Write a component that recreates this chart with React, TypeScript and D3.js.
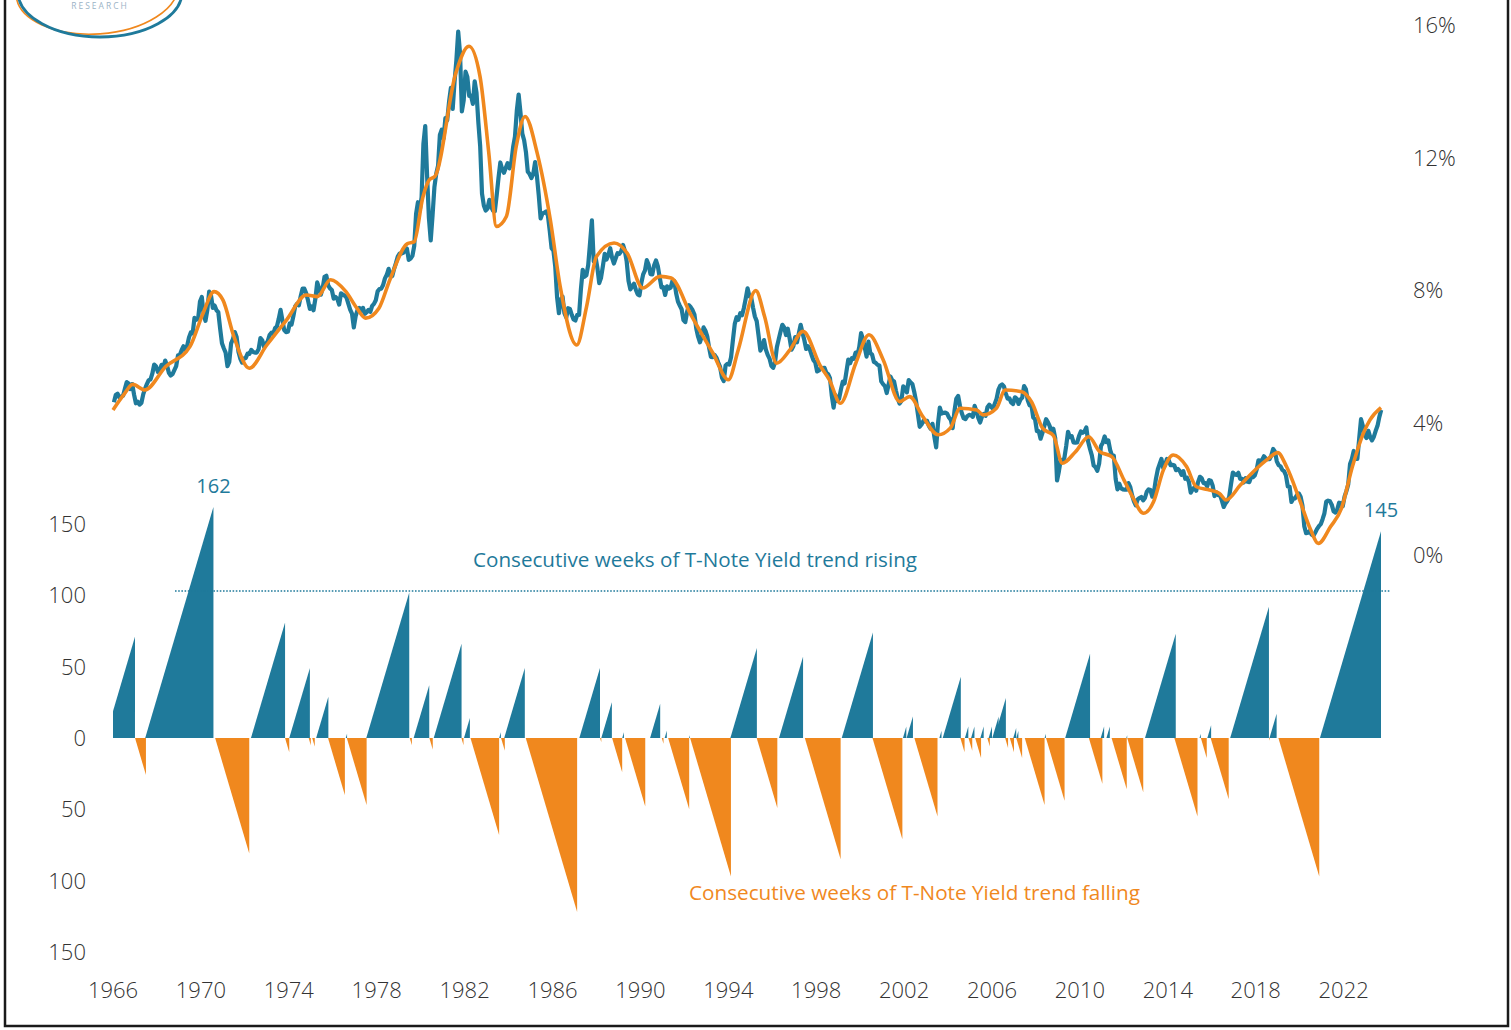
import React from "react";
import * as d3 from "d3";

// ---------- DATA ----------
const START_YEAR = 1966;

// 10-year T-Note yield (%), one reading per month, Jan 1966 .. Sep 2023
const tenYearYieldMonthly: number[] = [
  4.61, 4.83, 4.87, 4.75, 4.78, 4.81, 5.02, 5.22, 5.18, 5.01, 5.16, 4.84,
  4.58, 4.63, 4.54, 4.59, 4.85, 5.02, 5.16, 5.28, 5.3, 5.48, 5.75, 5.7,
  5.53, 5.56, 5.74, 5.64, 5.87, 5.72, 5.5, 5.42, 5.46, 5.58, 5.7, 6.03,
  6.04, 6.19, 6.3, 6.17, 6.32, 6.57, 6.72, 6.69, 7.16, 7.1, 7.14, 7.65,
  7.79, 7.24, 7.07, 7.39, 7.95, 7.84, 7.46, 7.53, 7.39, 7.33, 6.84, 6.39,
  6.24, 6.11, 5.7, 5.83, 6.39, 6.52, 6.73, 6.58, 6.14, 5.93, 5.81, 5.93,
  5.95, 6.08, 6.07, 6.19, 6.13, 6.11, 6.11, 6.21, 6.55, 6.48, 6.28, 6.36,
  6.46, 6.64, 6.71, 6.67, 6.85, 6.9, 7.13, 7.4, 7.09, 6.79, 6.73, 6.74,
  6.99, 6.96, 7.21, 7.51, 7.58, 7.54, 7.81, 8.04, 8.04, 7.9, 7.68, 7.43,
  7.5, 7.39, 7.73, 8.23, 8.06, 7.86, 8.06, 8.4, 8.43, 8.14, 8.05, 8.0,
  7.74, 7.79, 7.73, 7.56, 7.9, 7.86, 7.83, 7.77, 7.59, 7.41, 7.29, 6.87,
  7.21, 7.39, 7.46, 7.37, 7.46, 7.28, 7.33, 7.4, 7.34, 7.52, 7.58, 7.69,
  7.96, 8.03, 8.04, 8.15, 8.35, 8.46, 8.64, 8.41, 8.42, 8.64, 8.81, 9.01,
  9.1, 9.1, 9.12, 9.18, 9.25, 8.91, 8.95, 9.03, 9.33, 10.3, 10.65, 10.39,
  10.8, 12.41, 12.95, 11.47, 10.18, 9.5, 10.25, 11.1, 11.51, 11.75, 12.68, 12.84,
  12.57, 13.19, 13.12, 13.68, 14.1, 13.47, 14.28, 14.94, 15.8, 15.15, 13.39, 13.72,
  14.59, 14.43, 13.86, 13.87, 13.62, 14.3, 13.95, 13.06, 12.34, 10.91, 10.55, 10.4,
  10.46, 10.72, 10.51, 10.4, 10.38, 10.85, 11.38, 11.85, 11.65, 11.54, 11.69, 11.83,
  11.67, 11.84, 12.32, 12.63, 13.41, 13.9, 13.36, 12.72, 12.52, 12.16, 11.57, 11.5,
  11.38, 11.51, 11.86, 11.43, 10.85, 10.16, 10.31, 10.33, 10.37, 10.24, 9.78, 9.26,
  9.19, 8.7, 7.78, 7.3, 7.71, 7.8, 7.3, 7.17, 7.45, 7.43, 7.25, 7.11,
  7.08, 7.25, 7.25, 8.02, 8.61, 8.4, 8.45, 8.76, 9.42, 10.1, 8.86, 8.99,
  8.67, 8.21, 8.37, 8.72, 9.09, 8.92, 9.06, 9.26, 8.98, 8.8, 8.96, 9.11,
  9.09, 9.17, 9.36, 9.18, 8.86, 8.28, 8.02, 8.11, 8.19, 8.01, 7.87, 7.84,
  8.21, 8.47, 8.59, 8.9, 8.76, 8.48, 8.47, 8.75, 8.89, 8.72, 8.39, 8.08,
  8.09, 7.85, 8.11, 8.04, 8.07, 8.28, 8.27, 7.9, 7.65, 7.53, 7.42, 7.09,
  7.03, 7.34, 7.54, 7.48, 7.39, 7.26, 6.84, 6.59, 6.42, 6.59, 6.87, 6.77,
  6.6, 6.26, 5.98, 5.97, 6.04, 5.96, 5.81, 5.68, 5.36, 5.25, 5.72, 5.77,
  5.75, 5.97, 6.48, 6.97, 7.18, 7.1, 7.3, 7.24, 7.46, 7.74, 8.05, 7.81,
  7.78, 7.47, 7.2, 7.06, 6.63, 6.17, 6.28, 6.49, 6.2, 6.04, 5.93, 5.71,
  5.65, 5.81, 6.27, 6.51, 6.74, 6.95, 6.87, 6.64, 6.83, 6.53, 6.2, 6.3,
  6.58, 6.42, 6.69, 6.95, 6.71, 6.49, 6.22, 6.3, 6.21, 6.03, 5.88, 5.81,
  5.54, 5.57, 5.65, 5.64, 5.65, 5.5, 5.46, 5.34, 4.81, 4.45, 4.83, 4.65,
  4.72, 5.0, 5.23, 5.18, 5.54, 5.9, 5.79, 5.94, 5.92, 6.11, 6.03, 6.28,
  6.7, 6.52, 6.26, 5.99, 6.44, 6.1, 6.05, 5.83, 5.8, 5.74, 5.72, 5.24,
  5.16, 5.1, 4.89, 5.14, 5.39, 5.28, 5.24, 4.97, 4.73, 4.57, 4.65, 5.09,
  5.04, 4.91, 5.28, 5.21, 5.16, 4.93, 4.65, 4.26, 3.87, 3.94, 4.05, 4.03,
  4.05, 3.9, 3.81, 3.96, 3.57, 3.25, 3.98, 4.45, 4.27, 4.29, 4.3, 4.27,
  4.15, 4.08, 3.83, 4.35, 4.72, 4.8, 4.5, 4.28, 4.13, 4.1, 4.19, 4.23,
  4.22, 4.17, 4.5, 4.34, 4.14, 4.0, 4.18, 4.26, 4.2, 4.46, 4.54, 4.47,
  4.42, 4.57, 4.72, 4.99, 5.11, 5.15, 5.09, 4.88, 4.72, 4.73, 4.6, 4.56,
  4.76, 4.72, 4.56, 4.69, 4.75, 5.1, 5.0, 4.67, 4.52, 4.53, 4.15, 4.1,
  3.74, 3.74, 3.51, 3.68, 3.88, 4.1, 4.01, 3.89, 3.69, 3.81, 3.53, 2.25,
  2.52, 2.87, 2.82, 2.93, 3.29, 3.72, 3.56, 3.59, 3.4, 3.39, 3.4, 3.59,
  3.73, 3.69, 3.73, 3.85, 3.42, 3.2, 3.01, 2.7, 2.65, 2.54, 2.76, 3.29,
  3.39, 3.58, 3.41, 3.46, 3.17, 3.0, 3.0, 2.3, 1.98, 2.15, 2.01, 1.98,
  1.97, 1.97, 2.17, 2.05, 1.8, 1.62, 1.5, 1.68, 1.72, 1.75, 1.65, 1.72,
  1.91, 1.98, 1.96, 1.76, 1.93, 2.3, 2.58, 2.74, 2.9, 2.62, 2.72, 2.9,
  2.86, 2.71, 2.72, 2.71, 2.56, 2.6, 2.54, 2.42, 2.53, 2.3, 2.33, 2.21,
  1.88, 1.98, 2.04, 1.94, 2.2, 2.36, 2.32, 2.17, 2.17, 2.07, 2.26, 2.24,
  2.09, 1.78, 1.89, 1.81, 1.81, 1.64, 1.45, 1.56, 1.63, 1.76, 2.14, 2.49,
  2.43, 2.42, 2.48, 2.3, 2.3, 2.19, 2.32, 2.21, 2.2, 2.36, 2.35, 2.4,
  2.58, 2.86, 2.84, 2.87, 2.98, 2.91, 2.89, 2.89, 3.0, 3.2, 3.12, 2.83,
  2.71, 2.68, 2.57, 2.53, 2.4, 2.07, 2.06, 1.6, 1.7, 1.71, 1.81, 1.86,
  1.76, 1.5, 0.87, 0.66, 0.67, 0.73, 0.62, 0.58, 0.68, 0.79, 0.87, 0.93,
  1.08, 1.26, 1.61, 1.64, 1.62, 1.52, 1.32, 1.28, 1.37, 1.58, 1.56, 1.47,
  1.76, 1.93, 2.13, 2.75, 2.9, 3.14, 2.9, 2.9, 3.52, 4.1, 3.89, 3.62,
  3.53, 3.75, 3.56, 3.46, 3.57, 3.75, 3.9, 4.17, 4.38,
];

// Smoothed yield trend (orange line)
const trendYears: number[] = [
  1966.0, 1966.5, 1966.9, 1967.45, 1968.4, 1969.5, 1970.1, 1970.6, 1971.0, 1971.5,
  1972.2, 1973.0, 1973.9, 1974.8, 1975.3, 1975.9, 1976.6, 1977.1, 1977.5, 1978.1,
  1978.6, 1979.4, 1979.7, 1980.1, 1980.4, 1980.65, 1981.6, 1982.2, 1982.7, 1983.1,
  1983.45, 1983.9, 1984.35, 1984.75, 1985.3, 1985.9, 1986.35, 1987.1, 1987.55, 1988.0,
  1988.8, 1989.4, 1990.1, 1990.9, 1991.4, 1992.3, 1993.3, 1994.0, 1994.45, 1995.25,
  1995.65, 1996.2, 1996.8, 1997.4, 1998.2, 1998.6, 1999.1, 1999.8, 2000.4, 2001.05,
  2001.8, 2002.25, 2002.85, 2003.55, 2004.1, 2004.55, 2005.3, 2005.6, 2006.2, 2006.6,
  2007.35, 2007.8, 2008.3, 2008.8, 2009.2, 2009.8, 2010.4, 2010.9, 2011.45, 2012.0,
  2012.35, 2012.9, 2013.35, 2013.8, 2014.25, 2014.85, 2015.3, 2015.9, 2016.35, 2016.65,
  2017.3, 2017.9, 2018.5, 2019.0, 2019.4, 2020.0, 2020.5, 2020.85, 2021.4, 2021.9,
  2022.4, 2022.9, 2023.2, 2023.7,
];
const trendValues: number[] = [
  4.38, 4.85, 5.15, 4.98, 5.69, 6.29, 7.3, 7.95, 7.7, 6.6,
  5.64, 6.34, 7.1, 7.85, 7.8, 8.31, 7.95, 7.45, 7.15, 7.45,
  8.31, 9.4, 9.45, 10.8, 11.33, 11.43, 14.55, 15.36, 14.45, 12.14,
  9.92, 10.22, 12.34, 13.24, 12.14, 10.12, 8.1, 6.34, 7.5, 9.01,
  9.42, 9.11, 8.06, 8.41, 8.36, 7.25, 6.09, 5.29, 6.19, 7.98,
  7.2, 5.79, 6.19, 6.75, 5.69, 5.29, 4.58, 5.79, 6.65, 5.89,
  4.63, 4.78, 4.18, 3.63, 3.83, 4.43, 4.38, 4.23, 4.43, 4.98,
  4.93, 4.62, 3.83, 3.6, 2.77, 3.12, 3.57, 3.12, 2.97, 2.27,
  1.81, 1.26, 1.61, 2.57, 3.02, 2.67, 2.06, 1.96, 1.86, 1.66,
  2.11, 2.52, 2.87, 3.09, 2.67, 1.66, 0.76, 0.35, 0.85, 1.41,
  2.67, 3.68, 4.08, 4.45,
];

// Streaks of the trend rising: end date (year) and length (weeks)
const risingEnd: number[] = [
  1967.0, 1970.57, 1973.83, 1974.96, 1975.8, 1976.65, 1979.48, 1980.39, 1981.86, 1982.24,
  1983.65, 1984.74, 1988.16, 1988.7, 1989.25, 1990.9, 1991.2, 1992.25, 1995.3, 1997.4,
  2000.58, 2002.1, 2002.4, 2003.7, 2004.58, 2004.92, 2005.2, 2005.62, 2006.0, 2006.3,
  2006.63, 2007.1, 2007.2, 2008.45, 2010.46, 2011.1, 2011.36, 2012.15, 2014.36, 2015.5,
  2015.97, 2018.6, 2018.95, 2023.7,
];
const risingWeeks: number[] = [
  71, 162, 81, 49, 29, 3, 102, 37, 66, 14,
  4, 49, 49, 25, 4, 24, 5, 2, 63, 57,
  74, 8, 15, 5, 43, 8, 8, 8, 8, 15,
  28, 7, 5, 3, 59, 8, 8, 2, 73, 3,
  9, 92, 17, 145,
];

// Streaks of the trend falling: end date (year) and length (weeks)
const fallingEnd: number[] = [
  1967.5, 1972.2, 1974.02, 1975.0, 1975.18, 1976.55, 1977.54, 1979.6, 1980.55, 1981.95,
  1983.57, 1983.83, 1987.12, 1988.22, 1989.17, 1990.22, 1991.05, 1992.22, 1994.12, 1996.23,
  1999.11, 2001.92, 2003.52, 2004.75, 2005.1, 2005.5, 2005.9, 2006.73, 2007.0, 2007.37,
  2008.39, 2009.3, 2011.02, 2012.13, 2012.88, 2015.35, 2015.77, 2016.77, 2018.65, 2020.89,
];
const fallingWeeks: number[] = [
  26, 81, 10, 5, 6, 40, 47, 5, 8, 5,
  68, 9, 122, 3, 24, 48, 4, 50, 97, 49,
  85, 71, 55, 10, 9, 14, 6, 7, 10, 14,
  47, 44, 32, 36, 38, 55, 14, 43, 2, 97,
];

const yearTicks: number[] = [1966, 1970, 1974, 1978, 1982, 1986, 1990, 1994, 1998, 2002, 2006, 2010, 2014, 2018, 2022];
const yieldTicks: number[] = [0, 4, 8, 12, 16];
const streakTicks: number[] = [150, 100, 50, 0, -50, -100, -150];
const peakLabels = [
  { year: 1970.57, weeks: 162, text: "162" },
  { year: 2023.7, weeks: 145, text: "145" },
];
const referenceWeeks = 103;
const referenceSpan: [number, number] = [1968.82, 2024.1];
const risingLabel = "Consecutive weeks of T-Note Yield trend rising";
const fallingLabel = "Consecutive weeks of T-Note Yield trend falling";

// ---------- STYLE ----------
const TEAL = "#1f7a9b";
const ORANGE = "#f0881e";
const TEXT = "#333333";
const FONT = "'Open Sans', 'Noto Sans', sans-serif";
const WEEKS_PER_YEAR = 52.18;

export default function App() {
  const W = 1511;
  const H = 1030;

  const x = d3.scaleLinear().domain([1966, 2023.7]).range([113, 1381]);
  const yY = d3.scaleLinear().domain([0, 16]).range([555, 25]);
  const yS = d3.scaleLinear().domain([-150, 150]).range([952, 524]);

  const blueData = tenYearYieldMonthly.map((v, i) => [START_YEAR + i / 12 + 1 / 24, v] as [number, number]);
  const trendData = trendYears.map((t, i) => [t, trendValues[i]] as [number, number]);

  const lineY = d3
    .line<[number, number]>()
    .x((d) => x(d[0]))
    .y((d) => yY(d[1]));
  const lineTrend = d3
    .line<[number, number]>()
    .x((d) => x(d[0]))
    .y((d) => yY(d[1]))
    .curve(d3.curveMonotoneX);

  const tri = d3
    .line<[number, number]>()
    .x((d) => x(d[0]))
    .y((d) => yS(d[1]));

  const risingPaths = risingEnd.map((e, i) => {
    const w = risingWeeks[i];
    return tri([
      [e - w / WEEKS_PER_YEAR, 0],
      [e, w],
      [e, 0],
    ]) as string;
  });
  const fallingPaths = fallingEnd.map((e, i) => {
    const w = fallingWeeks[i];
    return tri([
      [e - w / WEEKS_PER_YEAR, 0],
      [e, -w],
      [e, 0],
    ]) as string;
  });

  return (
    <div style={{ position: "absolute", left: 0, top: 0 }}>
      <svg width={W} height={H} style={{ display: "block", background: "#fff" }} fontFamily={FONT}>
        <defs>
          <clipPath id="plotClip">
            <rect x={x(1966)} y={0} width={1400 - x(1966)} height={H} />
          </clipPath>
          <filter id="soft" x="-5%" y="-200%" width="110%" height="500%">
            <feGaussianBlur stdDeviation="2.5" />
          </filter>
        </defs>

        {/* frame */}
        <rect x={5} y={-10} width={1503} height={1036} fill="none" stroke="#1a1a1a" strokeWidth={2.5} />

        {/* logo */}
        <ellipse cx={97} cy={-10} rx={81} ry={44} fill="none" stroke={ORANGE} strokeWidth={1.6} transform="rotate(-4 97 -10)" />
        <ellipse cx={100} cy={-8} rx={82} ry={45} fill="none" stroke={TEAL} strokeWidth={2.8} />
        <text x={100} y={9} textAnchor="middle" fontSize={8.5} fill="#9bb3c6" letterSpacing={2}>
          RESEARCH
        </text>

        {/* streak chart */}
        <g clipPath="url(#plotClip)">
          {fallingPaths.map((p, i) => (
            <path key={"f" + i} d={p} fill={ORANGE} />
          ))}
          {risingPaths.map((p, i) => (
            <path key={"r" + i} d={p} fill={TEAL} />
          ))}
        </g>

        {/* reference dotted line */}
        <line
          x1={x(referenceSpan[0])}
          x2={x(referenceSpan[1])}
          y1={yS(referenceWeeks) + 4}
          y2={yS(referenceWeeks) + 4}
          stroke="#9a9a9a"
          strokeOpacity={0.35}
          strokeWidth={3}
          filter="url(#soft)"
        />
        <line
          x1={x(referenceSpan[0])}
          x2={x(referenceSpan[1])}
          y1={yS(referenceWeeks)}
          y2={yS(referenceWeeks)}
          stroke={TEAL}
          strokeWidth={1.6}
          strokeDasharray="1.6 1.6"
        />

        {/* yield lines */}
        <path d={lineY(blueData) as string} fill="none" stroke={TEAL} strokeWidth={4.2} strokeLinejoin="round" />
        <path d={lineTrend(trendData) as string} fill="none" stroke={ORANGE} strokeWidth={3.6} strokeLinejoin="round" />

        {/* peak labels */}
        {peakLabels.map((p) => (
          <text key={p.text} x={x(p.year)} y={yS(p.weeks) - 14} textAnchor="middle" fontSize={20} fill={TEAL}>
            {p.text}
          </text>
        ))}

        {/* annotations */}
        <text x={473} y={567} fontSize={20} fill={TEAL} textLength={444} lengthAdjust="spacingAndGlyphs">
          {risingLabel}
        </text>
        <text x={689} y={900} fontSize={20} fill={ORANGE} textLength={451} lengthAdjust="spacingAndGlyphs">
          {fallingLabel}
        </text>

        {/* left axis (weeks) */}
        {streakTicks.map((t) => (
          <text key={"s" + t} x={86} y={yS(t) + 8} textAnchor="end" fontSize={22} fontWeight={300} fill={TEXT}>
            {Math.abs(t)}
          </text>
        ))}

        {/* right axis (yield) */}
        {yieldTicks.map((t) => (
          <text key={"y" + t} x={1413} y={yY(t) + 8} textAnchor="start" fontSize={22} fontWeight={300} fill={TEXT}>
            {t + "%"}
          </text>
        ))}

        {/* bottom axis (years) */}
        {yearTicks.map((t) => (
          <text key={"x" + t} x={x(t)} y={998} textAnchor="middle" fontSize={22} fontWeight={300} fill={TEXT}>
            {t}
          </text>
        ))}
      </svg>
    </div>
  );
}
